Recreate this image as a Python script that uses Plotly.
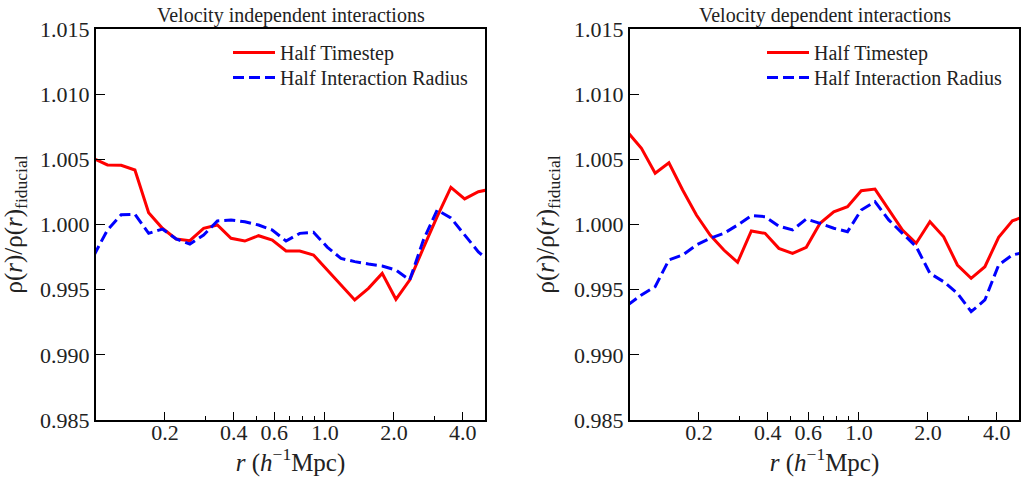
import plotly.graph_objects as go

# radial bin centres (h^-1 Mpc)
r = [0.0977, 0.1122, 0.1288, 0.1479, 0.1698, 0.1950, 0.2239, 0.2570, 0.2951, 0.3388,
     0.3890, 0.4467, 0.5129, 0.5888, 0.6761, 0.7762, 0.8913, 1.0233, 1.1749, 1.3490,
     1.5488, 1.7783, 2.0417, 2.3442, 2.6915, 3.0903, 3.5481, 4.0738, 4.6774, 5.3703]

# Velocity independent interactions
vi_half_timestep = [1.00506, 1.00457, 1.00454, 1.00418, 1.00091, 0.99971, 0.99889, 0.99876, 0.99971, 0.99996,
                    0.99894, 0.99873, 0.99914, 0.99881, 0.99797, 0.99797, 0.99766, 0.99652, 0.99537, 0.99421,
                    0.99510, 0.99625, 0.99426, 0.99574, 0.99820, 1.00061, 1.00285, 1.00196, 1.00252, 1.00272]
vi_half_radius = [0.99760, 0.99958, 1.00075, 1.00078, 0.99932, 0.99965, 0.99889, 0.99850, 0.99919, 1.00027,
                  1.00035, 1.00021, 0.99996, 0.99958, 0.99873, 0.99932, 0.99940, 0.99827, 0.99740, 0.99715,
                  0.99697, 0.99682, 0.99650, 0.99574, 0.99881, 1.00111, 1.00050, 0.99920, 0.99790, 0.99700]

# Velocity dependent interactions
vd_half_timestep = [1.00708, 1.00585, 1.00393, 1.00474, 1.00265, 1.00073, 0.99919, 0.99804, 0.99710, 0.99950,
                    0.99932, 0.99817, 0.99779, 0.99825, 1.00009, 1.00098, 1.00137, 1.00259, 1.00272, 1.00111,
                    0.99958, 0.99856, 1.00021, 0.99906, 0.99689, 0.99587, 0.99676, 0.99902, 1.00029, 1.00065]
vd_half_radius = [0.99382, 0.99459, 0.99523, 0.99728, 0.99766, 0.99843, 0.99894, 0.99932, 0.99996, 1.00068,
                  1.00060, 0.99988, 0.99958, 1.00042, 1.00009, 0.99971, 0.99945, 1.00111, 1.00175, 1.00035,
                  0.99932, 0.99830, 0.99625, 0.99561, 0.99472, 0.99331, 0.99421, 0.99689, 0.99766, 0.99790]

titles = ["Velocity independent interactions", "Velocity dependent interactions"]
series_names = ["Half Timestep", "Half Interaction Radius"]
x_tickvals = [0.2, 0.4, 0.6, 1.0, 2.0, 4.0]
x_ticktext = ["0.2", "0.4", "0.6", "1.0", "2.0", "4.0"]
x_minor = [0.3, 0.5, 0.7, 0.8, 0.9, 3.0]
y_tickvals = [0.985, 0.990, 0.995, 1.000, 1.005, 1.010, 1.015]
y_ticktext = ["0.985", "0.990", "0.995", "1.000", "1.005", "1.010", "1.015"]

FONT = "Liberation Serif"
TXT = "#222222"
RED = "#ff0000"
BLUE = "#0000ff"

# full-window figure; the page's default body margin is removed below
W, H = 1021, 477
L, R, T, B = 96, 2, 29, 57
pw = W - L - R
ph = H - T - B
dom1 = [0, (485 - L) / pw]
dom2 = [(630 - L) / pw, 1.0]

fig = go.Figure()
panels = [(vi_half_timestep, vi_half_radius), (vd_half_timestep, vd_half_radius)]
legend_left = [228, 762]
leg_names = [["legend", "legend2"], ["legend3", "legend4"]]
legend_layout = {}
for i, (ts, rad) in enumerate(panels):
    sfx = "" if i == 0 else str(i + 1)
    fig.add_trace(go.Scatter(x=r, y=ts, mode="lines", name=series_names[0],
                             line=dict(color=RED, width=3),
                             xaxis="x" + sfx, yaxis="y" + sfx, legend=leg_names[i][0]))
    fig.add_trace(go.Scatter(x=r, y=rad, mode="lines", name=series_names[1],
                             line=dict(color=BLUE, width=3, dash="11px,5px"),
                             xaxis="x" + sfx, yaxis="y" + sfx, legend=leg_names[i][1]))
    for j, top_px in enumerate([33, 58]):
        legend_layout[leg_names[i][j]] = dict(
            x=(legend_left[i] - L) / pw, y=1 - (top_px - T) / ph,
            font=dict(family=FONT, size=20, color=TXT), bgcolor="rgba(0,0,0,0)",
            borderwidth=0, xanchor="left", yanchor="top", itemwidth=42)

def xax(dom, anchor):
    return dict(domain=dom, anchor=anchor, type="log", range=[-1.0, 0.69897],
                tickvals=x_tickvals, ticktext=x_ticktext, ticks="inside", ticklen=8,
                tickwidth=1.2, tickcolor="black", ticklabelstandoff=-8,
                minor=dict(tickvals=x_minor, ticks="inside", ticklen=4, tickwidth=1.2, tickcolor="black"),
                showline=True, linecolor="black", linewidth=2, mirror=True,
                showgrid=False, zeroline=False,
                tickfont=dict(family=FONT, size=22, color=TXT),
                title=dict(text="<i>r</i> (<i>h</i><sup>−1</sup>Mpc)",
                           font=dict(family=FONT, size=25, color=TXT), standoff=12))

def yax(anchor):
    return dict(domain=[0, 1], anchor=anchor, range=[0.985, 1.015],
                tickvals=y_tickvals, ticktext=y_ticktext, ticks="inside", ticklen=9,
                tickwidth=1.2, tickcolor="black",
                showline=True, linecolor="black", linewidth=2, mirror=True,
                showgrid=False, zeroline=False,
                tickfont=dict(family=FONT, size=22, color=TXT),
                title=dict(text="ρ(<i>r</i>)/ρ(<i>r</i>)<sub>fiducial</sub>",
                           font=dict(family=FONT, size=25, color=TXT), standoff=12))

fig.update_layout(
    width=W, height=H, margin=dict(l=L, r=R, t=T, b=B, autoexpand=False),
    paper_bgcolor="white", plot_bgcolor="white",
    xaxis=xax(dom1, "y"), yaxis=yax("x"),
    xaxis2=xax(dom2, "y2"), yaxis2=yax("x2"),
    annotations=[
        dict(text=titles[0], x=(dom1[0] + dom1[1]) / 2, y=1.0, xref="paper", yref="paper",
             xanchor="center", yanchor="bottom", yshift=0, showarrow=False,
             font=dict(family=FONT, size=20, color=TXT)),
        dict(text=titles[1], x=(dom2[0] + dom2[1]) / 2, y=1.0, xref="paper", yref="paper",
             xanchor="center", yanchor="bottom", yshift=0, showarrow=False,
             font=dict(family=FONT, size=20, color=TXT)),
    ],
    showlegend=True,
    **legend_layout,
)

fig.write_html("out.html", config={"displayModeBar": False},
               post_script="document.body.style.margin='0px';")
